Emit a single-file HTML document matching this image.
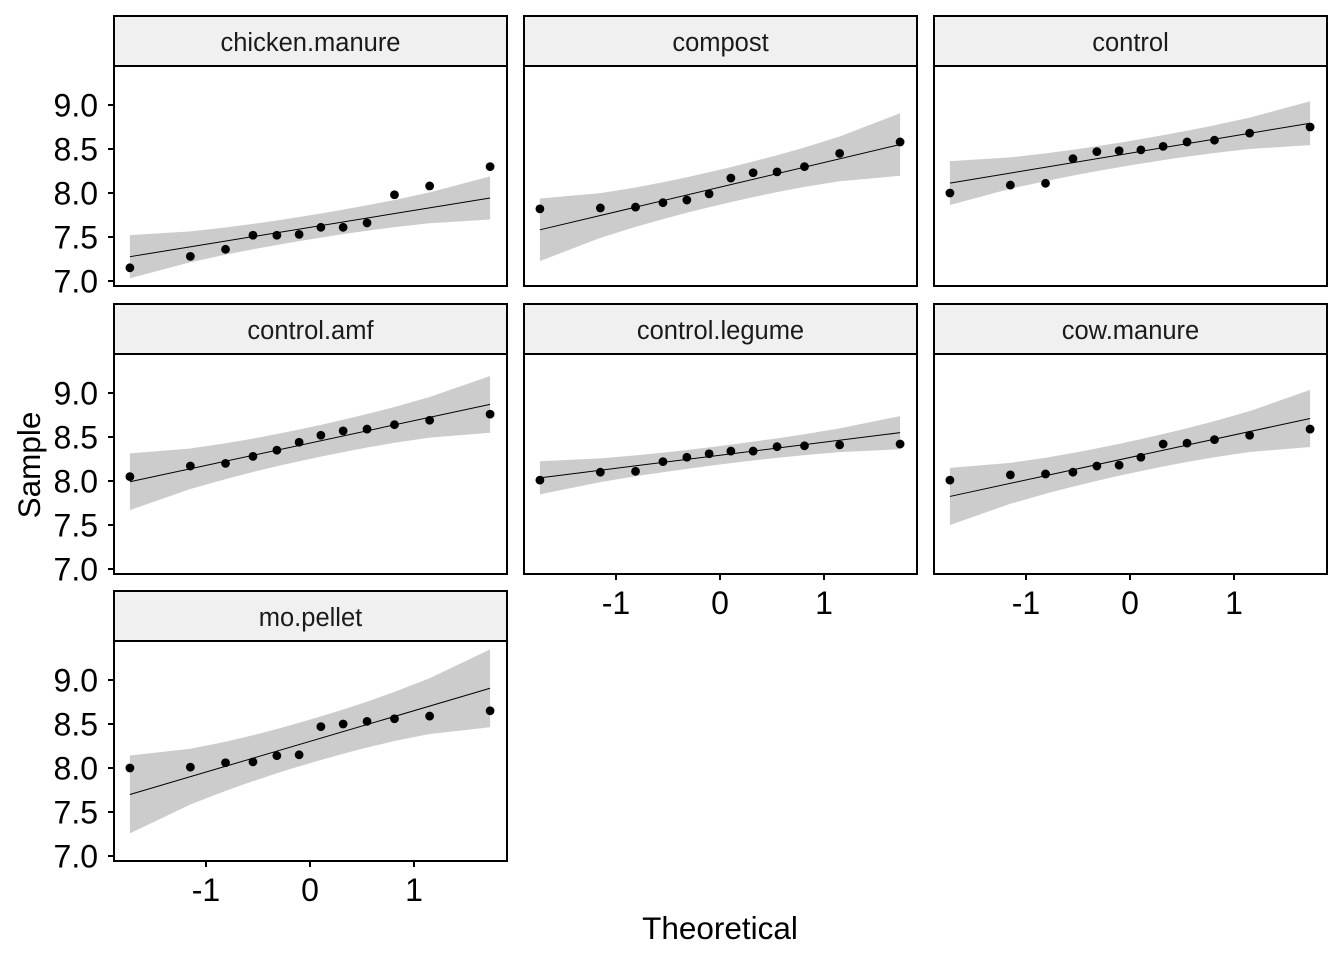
<!DOCTYPE html>
<html><head><meta charset="utf-8"><style>
body{margin:0;background:#fff}
svg text{font-family:"Liberation Sans",Arial,sans-serif}
</style></head><body>
<svg id="chart" width="1344" height="960" xmlns="http://www.w3.org/2000/svg"></svg>
<script>
const panelNames = ["chicken.manure","compost","control","control.amf","control.legume","cow.manure","mo.pellet"];
const chickenManure = [7.15,7.28,7.36,7.52,7.52,7.53,7.61,7.61,7.66,7.98,8.08,8.30];
const compost = [7.82,7.83,7.84,7.89,7.92,7.99,8.17,8.23,8.24,8.30,8.45,8.58];
const control = [8.00,8.09,8.11,8.39,8.47,8.48,8.49,8.53,8.58,8.60,8.68,8.75];
const controlAmf = [8.05,8.17,8.20,8.28,8.35,8.44,8.52,8.57,8.59,8.64,8.69,8.76];
const controlLegume = [8.01,8.10,8.11,8.22,8.27,8.31,8.34,8.34,8.39,8.40,8.41,8.42];
const cowManure = [8.01,8.07,8.08,8.10,8.17,8.18,8.27,8.42,8.43,8.47,8.52,8.59];
const moPellet = [8.00,8.01,8.06,8.07,8.14,8.15,8.47,8.50,8.53,8.56,8.59,8.65];
const yTicks = [7.0,7.5,8.0,8.5,9.0];
const yTickLabels = ["7.0","7.5","8.0","8.5","9.0"];
const xTicks = [-1,0,1];
const xTickLabels = ["-1","0","1"];
const series = [chickenManure,compost,control,controlAmf,controlLegume,cowManure,moPellet];

const svg = document.getElementById('chart');
const NS = "http://www.w3.org/2000/svg";
function mk(tag, attrs, parent){const e=document.createElementNS(NS,tag);for(const k in attrs)e.setAttribute(k,attrs[k]);(parent||svg).appendChild(e);return e;}
function qnorm(p){
 const a=[-39.69683028665376,220.9460984245205,-275.9285104469687,138.357751867269,-30.66479806614716,2.506628277459239];
 const b=[-54.47609879822406,161.5858368580409,-155.6989798598866,66.80131188771972,-13.28068155288572];
 const c=[-0.007784894002430293,-0.3223964580411365,-2.400758277161838,-2.549732539343734,4.374664141464968,2.938163982698783];
 const d=[0.007784695709041462,0.3224671290700398,2.445134137142996,3.754408661907416];
 const pl=0.02425;let q,r;
 if(p<pl){q=Math.sqrt(-2*Math.log(p));return (((((c[0]*q+c[1])*q+c[2])*q+c[3])*q+c[4])*q+c[5])/((((d[0]*q+d[1])*q+d[2])*q+d[3])*q+1);}
 if(p>1-pl){q=Math.sqrt(-2*Math.log(1-p));return -(((((c[0]*q+c[1])*q+c[2])*q+c[3])*q+c[4])*q+c[5])/((((d[0]*q+d[1])*q+d[2])*q+d[3])*q+1);}
 q=p-0.5;r=q*q;return (((((a[0]*r+a[1])*r+a[2])*r+a[3])*r+a[4])*r+a[5])*q/(((((b[0]*r+b[1])*r+b[2])*r+b[3])*r+b[4])*r+1);
}
function quant(s,p){const h=(s.length-1)*p;const lo=Math.floor(h);return s[lo]+(h-lo)*((s[Math.min(lo+1,s.length-1)])-s[lo]);}
const colX=[114,524,934], rowStrip=[16,304,591];
const PW=393, PH=220, SH=50;
for(let i=0;i<series.length;i++){
  const data=series[i].slice().sort((a,b)=>a-b);
  const n=data.length;
  const col=i%3,row=Math.floor(i/3);
  const px=colX[col], st=rowStrip[row], py=st+SH;
  const xs=v=>px+196+v*104;
  const ys=v=>py+39+(9-v)*88;
  const g=mk('g',{});
  
  
  const strip=mk('rect',{x:px,y:st,width:PW,height:SH,fill:'#f0f0f0',stroke:'#000','stroke-width':2},g);
  
  const stt=mk('text',{x:px+PW/2,y:st+35,'text-anchor':'middle','font-size':25.5,fill:'#1a1a1a'},g);
  stt.textContent=panelNames[i];
  
  const p=[],z=[];
  for(let k=1;k<=n;k++){p.push((k-0.5)/n);z.push(qnorm((k-0.5)/n));}
  const q25=quant(data,0.25),q75=quant(data,0.75);
  const slope=(q75-q25)/(qnorm(0.75)-qnorm(0.25));
  const icpt=q25-slope*qnorm(0.25);
  let up='';
  for(let k=0;k<n;k++){
    const fit=icpt+slope*z[k];
    const se=slope/(Math.exp(-z[k]*z[k]/2)/Math.sqrt(2*Math.PI))*Math.sqrt(p[k]*(1-p[k])/n);
    up+=(k?'L':'M')+xs(z[k])+','+ys(fit+1.96*se);
  }
  for(let k=n-1;k>=0;k--){
    const fit=icpt+slope*z[k];
    const se=slope/(Math.exp(-z[k]*z[k]/2)/Math.sqrt(2*Math.PI))*Math.sqrt(p[k]*(1-p[k])/n);
    up+='L'+xs(z[k])+','+ys(fit-1.96*se);
  }
  const band=mk('path',{d:up+'Z',fill:'#cccccc'},g);
  
  const ln=mk('line',{x1:xs(z[0]),y1:ys(icpt+slope*z[0]),x2:xs(z[n-1]),y2:ys(icpt+slope*z[n-1]),stroke:'#000','stroke-width':1},g);
  
  for(let k=0;k<n;k++){
    const c=mk('circle',{cx:xs(z[k]),cy:ys(data[k]),r:4.4,fill:'#000'},g);
    
  }
  const fr=mk('rect',{x:px,y:py,width:PW,height:PH,fill:'none',stroke:'#000','stroke-width':2},g);
  
  if(col===0){
    yTicks.forEach((t,j)=>{
      mk('line',{x1:px-6,x2:px,y1:ys(t),y2:ys(t),stroke:'#000','stroke-width':2},g);
      const tl=mk('text',{x:px-16,y:ys(t)+11.5,'text-anchor':'end','font-size':32,fill:'#000'},g);
      tl.textContent=yTickLabels[j];
      
    });
  }
  if(i>=4){
    xTicks.forEach((t,j)=>{
      mk('line',{x1:xs(t),x2:xs(t),y1:py+PH,y2:py+PH+6,stroke:'#000','stroke-width':2},g);
      const tl=mk('text',{x:xs(t),y:py+PH+40,'text-anchor':'middle','font-size':32,fill:'#000'},g);
      tl.textContent=xTickLabels[j];
      
    });
  }
}
const xt=mk('text',{x:720,y:939,'text-anchor':'middle','font-size':31.5,fill:'#000'});
xt.textContent='Theoretical';

const yt=mk('text',{x:0,y:0,'text-anchor':'middle','font-size':31.5,fill:'#000',transform:'translate(40,465) rotate(-90)'});
yt.textContent='Sample';

</script>
</body></html>
